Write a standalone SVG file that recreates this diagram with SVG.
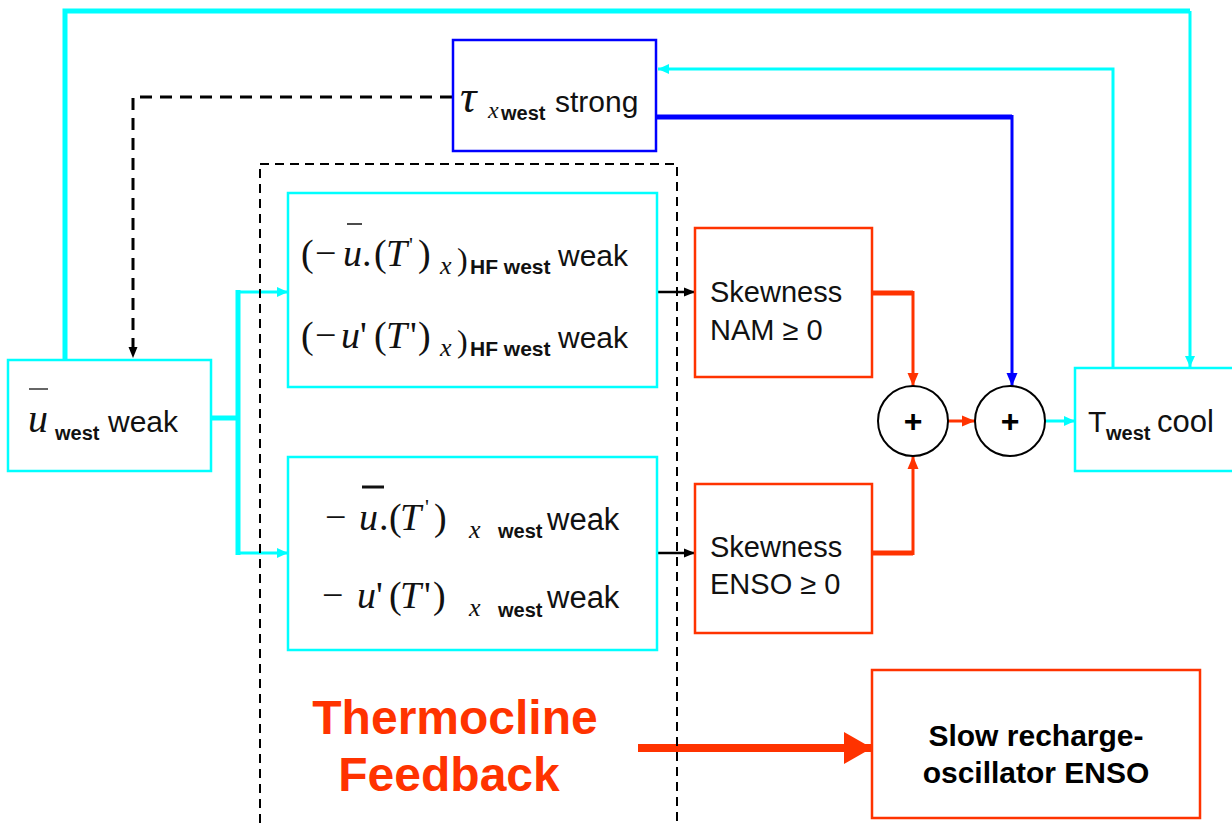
<svg xmlns="http://www.w3.org/2000/svg" width="1232" height="825" viewBox="0 0 1232 825">
<style>
.cy{fill:none;stroke:#00ffff}
.bx{fill:#fff;stroke-width:2.5}
.sans{font-family:"Liberation Sans",Arial,sans-serif;fill:#111}
.b{font-weight:bold}
.m{font-family:"Liberation Serif","Times New Roman",serif;fill:#111}
.i{font-style:italic}
</style>
<defs>
<marker id="ac" markerUnits="userSpaceOnUse" markerWidth="12" markerHeight="12" refX="11" refY="6" orient="auto"><path d="M0,1 L11,6 L0,11 z" fill="#00ffff"/></marker>
<marker id="ak" markerUnits="userSpaceOnUse" markerWidth="12" markerHeight="12" refX="11" refY="6" orient="auto"><path d="M0,1.5 L11,6 L0,10.5 z" fill="#000"/></marker>
<marker id="ao" markerUnits="userSpaceOnUse" markerWidth="14" markerHeight="14" refX="13" refY="7" orient="auto"><path d="M0,1.5 L13,7 L0,12.5 z" fill="#ff3300"/></marker>
<marker id="ab" markerUnits="userSpaceOnUse" markerWidth="14" markerHeight="14" refX="13" refY="7" orient="auto"><path d="M0,1.5 L13,7 L0,12.5 z" fill="#0000ff"/></marker>
<marker id="aO" markerUnits="userSpaceOnUse" markerWidth="30" markerHeight="32" refX="28" refY="16" orient="auto"><path d="M0,0 L28,16 L0,32 z" fill="#ff3300"/></marker>
</defs>

<g id="connectors">
  <path class="cy" d="M65,360 V11 H1190" stroke-width="5"/>
  <path class="cy" d="M1190,11 V367" stroke-width="3" marker-end="url(#ac)"/>
  <path class="cy" d="M1113,368 V69 H658" stroke-width="3" marker-end="url(#ac)"/>
  <path d="M452,97 H133 V358" fill="none" stroke="#000" stroke-width="3" stroke-dasharray="12,8" marker-end="url(#ak)"/>
  <path class="cy" d="M211,418 H238 M238,290 V555" stroke-width="5"/>
  <path class="cy" d="M238,292 H288" stroke-width="3" marker-end="url(#ac)"/>
  <path class="cy" d="M238,553 H288" stroke-width="3" marker-end="url(#ac)"/>
  <path d="M657,292 H695" stroke="#000" stroke-width="2.5" marker-end="url(#ak)"/>
  <path d="M657,553 H695" stroke="#000" stroke-width="2.5" marker-end="url(#ak)"/>
  <path d="M872,293 H913" stroke="#ff3300" stroke-width="5" fill="none"/>
  <path d="M913,291 V386" stroke="#ff3300" stroke-width="3" fill="none" marker-end="url(#ao)"/>
  <path d="M872,553 H913" stroke="#ff3300" stroke-width="5" fill="none"/>
  <path d="M913,555 V456" stroke="#ff3300" stroke-width="3" fill="none" marker-end="url(#ao)"/>
  <path d="M948,421 H975" stroke="#ff3300" stroke-width="3" marker-end="url(#ao)"/>
  <path d="M1045,421 H1075" stroke="#00ffff" stroke-width="3" marker-end="url(#ac)"/>
  <path d="M657,117 H1012" stroke="#0000ff" stroke-width="5" fill="none"/>
  <path d="M1012,115 V386" stroke="#0000ff" stroke-width="3" fill="none" marker-end="url(#ab)"/>
  <path d="M638,748 H872" stroke="#ff3300" stroke-width="8" marker-end="url(#aO)"/>
</g>

<g id="thermocline-group">
  <rect x="260" y="164" width="417" height="670" fill="none" stroke="#000" stroke-width="2" stroke-dasharray="9,6"/>
  <text class="sans b" x="455" y="734" font-size="48" text-anchor="middle" style="fill:#ff3300">Thermocline</text>
  <text class="sans b" x="449" y="791" font-size="48" text-anchor="middle" style="fill:#ff3300">Feedback</text>
</g>

<g id="tau">
  <rect x="453" y="40" width="203" height="111" class="bx" stroke="#0000ff"/>
  <text y="112"><tspan class="m i" x="460" font-size="46">τ</tspan><tspan class="m i" x="488" y="118" font-size="24">x</tspan><tspan class="sans b" x="501" y="120" font-size="20">west</tspan><tspan class="sans" x="555" y="112" font-size="30">strong</tspan></text>
</g>

<g id="ubar">
  <rect x="8" y="360" width="203" height="111" class="bx" stroke="#00ffff"/>
  <line x1="29" y1="389" x2="48" y2="389" stroke="#333" stroke-width="1.5"/>
  <text y="432"><tspan class="m i" x="28" font-size="40">u</tspan><tspan class="sans b" x="55" y="440" font-size="20">west</tspan><tspan class="sans" x="108" y="432" font-size="30">weak</tspan></text>
</g>

<g id="hf-box">
  <rect x="288" y="193" width="369" height="194" class="bx" stroke="#00ffff"/>
  <line x1="347" y1="224" x2="362" y2="224" stroke="#111" stroke-width="1.5"/>
  <text class="m" font-size="38" y="266"><tspan x="301">(</tspan><tspan x="315">−</tspan><tspan class="i" x="343">u</tspan><tspan x="362">.</tspan><tspan x="374">(</tspan><tspan class="i" x="386">T</tspan><tspan x="409" y="252" font-size="22">'</tspan><tspan x="418" y="266">)</tspan><tspan class="i" x="440" y="274" font-size="26">x</tspan><tspan x="457" y="270" font-size="32">)</tspan><tspan class="sans b" x="470" y="274" font-size="21">HF west</tspan><tspan class="sans" x="558" y="266" font-size="30">weak</tspan></text>
  <text class="m" font-size="38" y="348"><tspan x="301">(</tspan><tspan x="315">−</tspan><tspan class="i" x="341">u</tspan><tspan x="360">'</tspan><tspan x="374">(</tspan><tspan class="i" x="386">T</tspan><tspan x="410">'</tspan><tspan x="418">)</tspan><tspan class="i" x="440" y="356" font-size="26">x</tspan><tspan x="457" y="352" font-size="32">)</tspan><tspan class="sans b" x="470" y="356" font-size="21">HF west</tspan><tspan class="sans" x="558" y="348" font-size="30">weak</tspan></text>
</g>

<g id="enso-box">
  <rect x="288" y="457" width="369" height="193" class="bx" stroke="#00ffff"/>
  <line x1="362" y1="487" x2="384" y2="487" stroke="#111" stroke-width="3"/>
  <text class="m" font-size="38" y="530"><tspan x="325">−</tspan><tspan class="i" x="359">u</tspan><tspan x="379">.</tspan><tspan x="389">(</tspan><tspan class="i" x="400">T</tspan><tspan x="425" y="514" font-size="22">'</tspan><tspan x="434" y="530">)</tspan><tspan class="i" x="469" y="538" font-size="26">x</tspan><tspan class="sans b" x="498" y="538" font-size="20">west</tspan><tspan class="sans" x="547" y="530" font-size="31">weak</tspan></text>
  <text class="m" font-size="38" y="608"><tspan x="322">−</tspan><tspan class="i" x="357">u</tspan><tspan x="376">'</tspan><tspan x="389">(</tspan><tspan class="i" x="400">T</tspan><tspan x="424">'</tspan><tspan x="433">)</tspan><tspan class="i" x="469" y="616" font-size="26">x</tspan><tspan class="sans b" x="498" y="617" font-size="20">west</tspan><tspan class="sans" x="547" y="608" font-size="31">weak</tspan></text>
</g>

<g id="skew-nam">
  <rect x="695" y="228" width="177" height="149" class="bx" stroke="#ff3300"/>
  <text class="sans" font-size="29"><tspan x="710" y="302">Skewness</tspan><tspan x="710" y="340">NAM ≥ 0</tspan></text>
</g>

<g id="skew-enso">
  <rect x="695" y="484" width="177" height="149" class="bx" stroke="#ff3300"/>
  <text class="sans" font-size="29"><tspan x="710" y="557">Skewness</tspan><tspan x="710" y="594">ENSO ≥ 0</tspan></text>
</g>

<g id="sum1">
  <circle cx="913" cy="421" r="35" fill="#fff" stroke="#000" stroke-width="2"/>
  <text class="sans b" x="913" y="432" font-size="32" text-anchor="middle" style="fill:#000">+</text>
</g>

<g id="sum2">
  <circle cx="1010" cy="421" r="35" fill="#fff" stroke="#000" stroke-width="2"/>
  <text class="sans b" x="1010" y="432" font-size="32" text-anchor="middle" style="fill:#000">+</text>
</g>

<g id="twest">
  <rect x="1075" y="368" width="170" height="103" class="bx" stroke="#00ffff"/>
  <text y="432"><tspan class="sans" x="1088" font-size="30">T</tspan><tspan class="sans b" x="1106" y="440" font-size="20">west</tspan><tspan class="sans" x="1157" y="432" font-size="31">cool</tspan></text>
</g>

<g id="recharge">
  <rect x="872" y="670" width="328" height="148" class="bx" stroke="#ff3300"/>
  <text class="sans b" font-size="30" text-anchor="middle" style="fill:#000"><tspan x="1036" y="746">Slow recharge-</tspan><tspan x="1036" y="783">oscillator ENSO</tspan></text>
</g>
</svg>
